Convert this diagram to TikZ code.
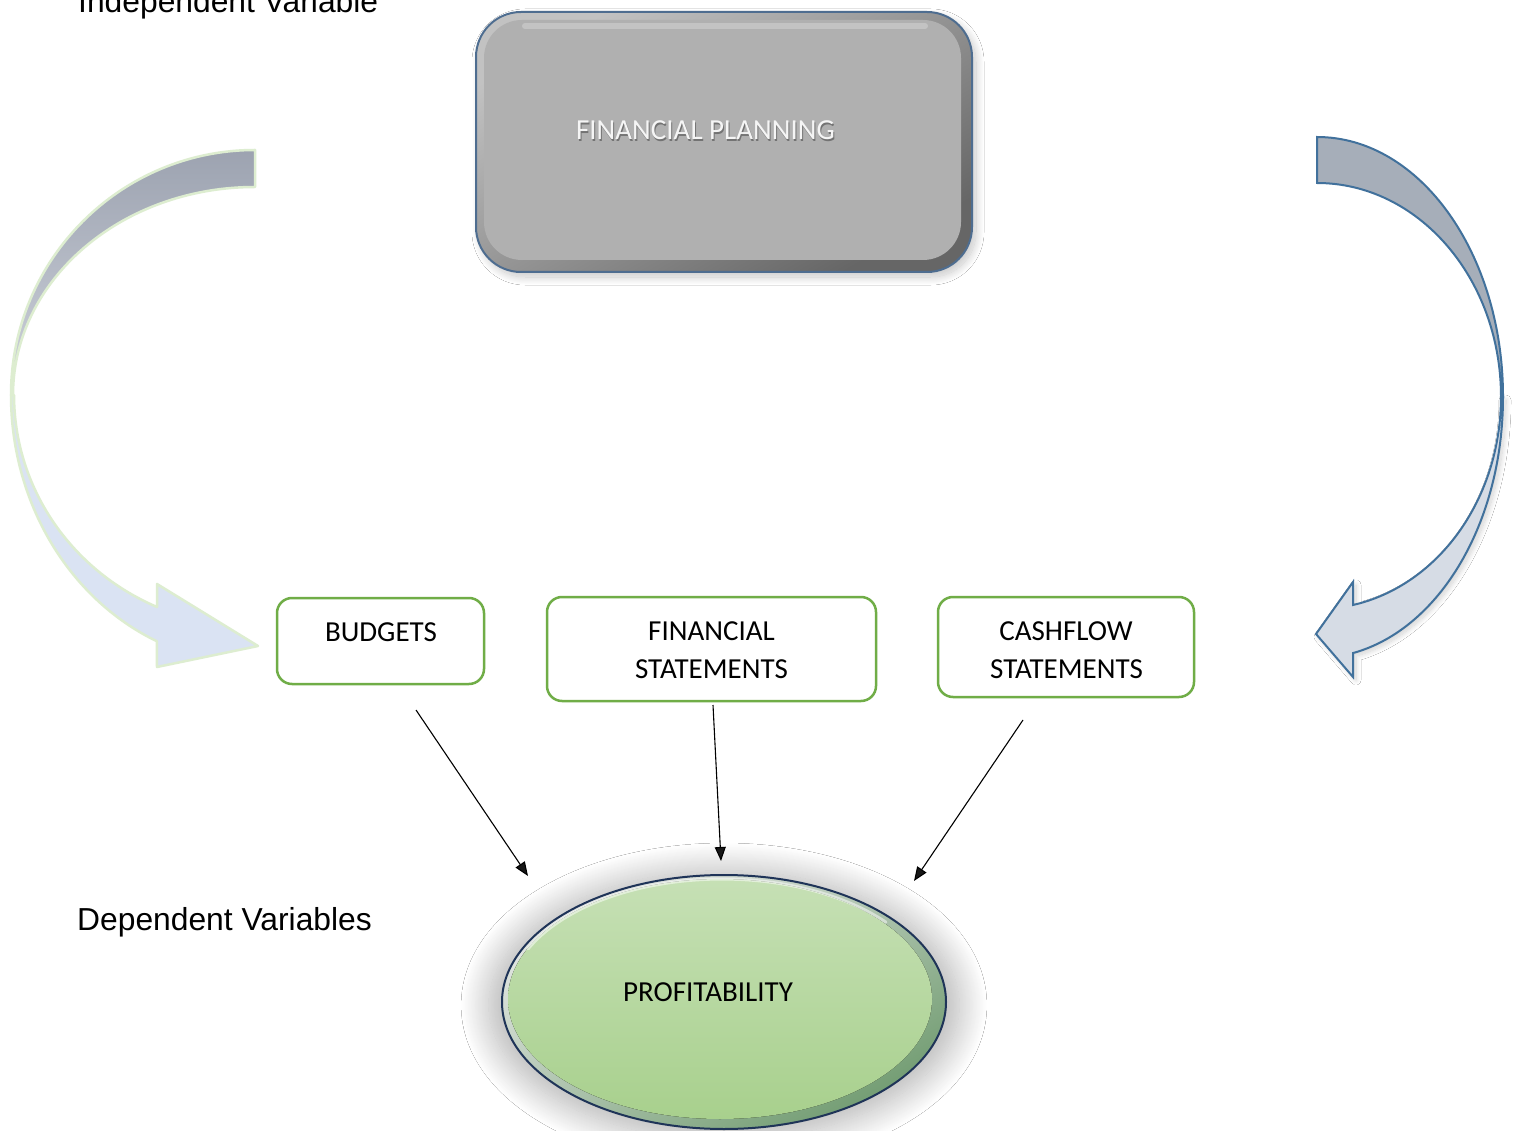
\documentclass[tikz,border=0pt]{standalone}
\usepackage{fontspec}
\setmainfont{Liberation Sans}
\newfontfamily\calibri{Carlito}
\usetikzlibrary{arrows.meta,shapes.geometric,shadows.blur}
\definecolor{boxgreen}{HTML}{70AD47}
\definecolor{fpborder}{HTML}{4E6D90}
\definecolor{fpface}{HTML}{B0B0B0}
\definecolor{profborder}{HTML}{1F3458}
\definecolor{larrowtop}{HTML}{AEB5C4}
\definecolor{larrowbot}{HTML}{DAE3F3}
\definecolor{larrowline}{HTML}{DDEDD0}
\definecolor{rarrowtop}{HTML}{A6AEB9}
\definecolor{rarrowbot}{HTML}{D6DCE5}
\definecolor{rarrowline}{HTML}{41719C}
\begin{document}
\begin{tikzpicture}[x=1pt,y=-1pt,
  lbl/.style={font=\fontsize{31.8}{38}\selectfont, anchor=base west, inner sep=0pt, text=black},
  cal/.style={font=\calibri\fontsize{29}{35}\selectfont, anchor=base, inner sep=0pt},
  varbox/.style={draw=boxgreen, line width=2.5pt, rounded corners=15pt, fill=white, inner sep=0pt, outer sep=0pt},
  conn/.style={line width=1.1pt, -{Triangle[length=14pt,width=11pt]}},
  larrow/.style={draw=larrowline, line width=2.5pt, line join=round},
  rarrow/.style={draw=rarrowline, line width=2pt, line join=miter}
]
\useasboundingbox (0,0) rectangle (1513,1131);
\clip (0,0) rectangle (1513,1131);
\fill[white] (0,0) rectangle (1513,1131);

% labels
\node[lbl, name=indep] at (78,13) {Independent Variable};
\node[lbl, name=dep] at (77,930) {Dependent Variables};

% left curved arrow
\path[larrow, fill=larrowbot] (11,395) arc[start angle=180, end angle=113.7, x radius=244, y radius=269]
  -- (157,667) -- (258,646) -- (157,584) -- (157,607)
  arc[start angle=114, end angle=180, x radius=241, y radius=232] -- cycle;
\path[larrow, top color=larrowtop!90!black, bottom color=larrowtop!60!white] (255,150) arc[start angle=270, end angle=180, x radius=244, y radius=245]
  -- (13,395) arc[start angle=180, end angle=270, x radius=242, y radius=208] -- cycle;

% right curved arrow
\path[rarrow, fill=rarrowbot, blur shadow={shadow xshift=3pt, shadow yshift=-3pt, shadow blur radius=5pt, shadow blur steps=15, shadow opacity=18}] (1503,397) arc[start angle=0, end angle=78.84, x radius=186, y radius=261]
  -- (1353,677) -- (1316,634) -- (1353,582) -- (1353,605)
  arc[start angle=78.7, end angle=0, x radius=184, y radius=212] -- cycle;
\path[rarrow, fill=rarrowtop] (1317,137) arc[start angle=270, end angle=360, x radius=186, y radius=260]
  -- (1501,397) arc[start angle=0, end angle=-90, x radius=184, y radius=214] -- cycle;

% financial planning box
\node[name=fp, draw=fpborder, line width=2pt, rounded corners=45pt,
  minimum width=496pt, minimum height=260pt, inner sep=0pt,
  top color=black!24, bottom color=black!60, shading angle=30,
  blur shadow={shadow xshift=4pt, shadow yshift=-5pt, shadow blur radius=8pt, shadow blur steps=20, shadow opacity=22}] at (724,142) {};
\fill[fpface, rounded corners=38pt] (484,20) rectangle (961,260);
\draw[white, opacity=.25, line width=6pt, line cap=round] (525,26) -- (925,26);
\node[cal, name=fpshadow, text=black!55] at (706.5,141.5) {FINANCIAL PLANNING};
\node[cal, name=fptext, text=black!4] at (705.5,140) {FINANCIAL PLANNING};

% variable boxes
\node[varbox, name=bud, minimum width=207pt, minimum height=86pt] at (380.5,641) {};
\node[varbox, name=fs, minimum width=329pt, minimum height=104pt] at (711.5,649) {};
\node[varbox, name=cf, minimum width=256pt, minimum height=100pt] at (1066,647) {};
\node[cal, name=budt] at (381,641) {BUDGETS};
\node[cal, name=fst1] at (711.5,640) {FINANCIAL};
\node[cal, name=fst2] at (711.5,678) {STATEMENTS};
\node[cal, name=cft1] at (1066,640) {CASHFLOW};
\node[cal, name=cft2] at (1066.5,678) {STATEMENTS};

% profitability ellipse
\node[name=prof, ellipse, draw=profborder, line width=2pt, minimum width=444pt, minimum height=254pt, inner sep=0pt,
  top color=green!10!black!10, bottom color=green!30!black!55, shading angle=30,
  blur shadow={shadow xshift=0pt, shadow yshift=-3pt, shadow scale=1.06, shadow blur radius=26pt, shadow blur steps=30, shadow opacity=30}] at (724,1002) {};
\fill[top color={rgb,255:red,198;green,224;blue,181}, bottom color={rgb,255:red,168;green,208;blue,141}] (720,999) ellipse[x radius=212, y radius=120];
\draw[white, opacity=.5, line width=3pt, line cap=round] (528.1,948.9) arc[start angle=205, end angle=320, x radius=214, y radius=121];
\node[cal, name=proftxt] at (708,1001) {PROFITABILITY};

% connectors
\coordinate (a1s) at (416,710);
\coordinate (a1e) at (528,876);
\coordinate (a2s) at (713,705);
\coordinate (a2e) at (721,861);
\coordinate (a3s) at (1023,720);
\coordinate (a3e) at (914,881);
\draw[conn] (a1s) -- (a1e);
\draw[conn] (a2s) -- (a2e);
\draw[conn] (a3s) -- (a3e);
\end{tikzpicture}
\end{document}
